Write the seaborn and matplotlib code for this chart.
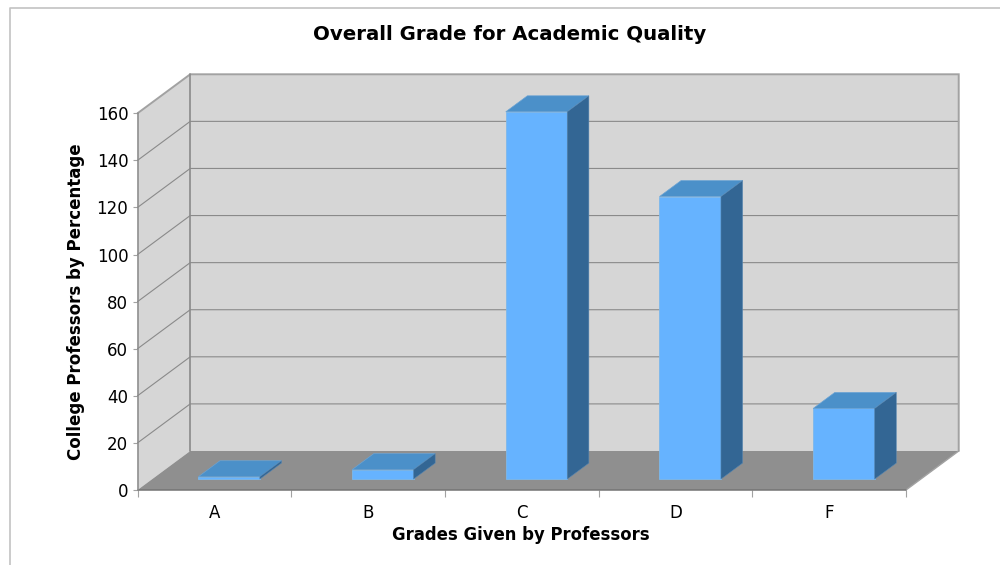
import matplotlib
matplotlib.use("Agg")
import matplotlib.pyplot as plt
from matplotlib.lines import Line2D
from matplotlib.patches import Polygon
from matplotlib.transforms import Affine2D
import pandas as pd
import seaborn as sns

grades = ["A", "B", "C", "D", "F"]
percent = [1, 4, 156, 120, 30]
y_ticks = [0, 20, 40, 60, 80, 100, 120, 140, 160]
title = "Overall Grade for Academic Quality"
x_label = "Grades Given by Professors"
y_label = "College Professors by Percentage"

W, H = 1000, 565
LEFT, RIGHT, TOP, BOTTOM = 137.5, 906.0, 113.3, 490.0
DEPTH_X, DEPTH_Y = 0.343, 16.57   # full chart depth, in data units
BAR_NEAR, BAR_FAR = 0.28, 0.69    # bar position within chart depth
WALL, FLOOR = "#d6d6d6", "#8f8f8f"
GRID, EDGE = "#8a8a8a", "#a2a2a2"
FRONT, TOPC, SIDE = "#66b3ff", "#4b90c9", "#336694"
TEXT = "#000000"

sns.set_theme(style="white")
plt.rcParams["font.family"] = ["DejaVu Sans"]

fig = plt.figure(figsize=(W / 100, H / 100), dpi=100, facecolor="white")
ax = fig.add_axes([LEFT / W, 1 - BOTTOM / H, (RIGHT - LEFT) / W, (BOTTOM - TOP) / H])
ax.set_facecolor("none")

df = pd.DataFrame({"grade": grades, "percent": percent})
sns.barplot(data=df, x="grade", y="percent", color=FRONT, saturation=1,
            width=0.4, ax=ax, zorder=5, linewidth=0.6, edgecolor="#7db8ea")
ax.set_xlim(-0.5, len(grades) - 0.5)
ax.set_ylim(y_ticks[0], y_ticks[-1])


def depth(x, y, d):
    return (x + DEPTH_X * d, y + DEPTH_Y * d)


x0, x1 = ax.get_xlim()
y0, y1 = ax.get_ylim()

# Walls and floor
ax.add_patch(Polygon([depth(x0, y0, 1), depth(x1, y0, 1), depth(x1, y1, 1), depth(x0, y1, 1)],
                     fc=WALL, ec="none", clip_on=False, zorder=1))
ax.add_patch(Polygon([depth(x0, y0, 0), depth(x0, y0, 1), depth(x0, y1, 1), depth(x0, y1, 0)],
                     fc=WALL, ec="none", clip_on=False, zorder=1))
ax.add_patch(Polygon([depth(x0, y0, 0), depth(x1, y0, 0), depth(x1, y0, 1), depth(x0, y0, 1)],
                     fc=FLOOR, ec="none", clip_on=False, zorder=1))

# Gridlines
for t in y_ticks[1:-1]:
    ax.plot(*zip(depth(x0, t, 0), depth(x0, t, 1), depth(x1, t, 1)),
            color=GRID, lw=0.8, clip_on=False, zorder=2)

# Frame edges
ax.plot(*zip(depth(x0, y1, 0), depth(x0, y1, 1), depth(x1, y1, 1), depth(x1, y0, 1)),
        color=EDGE, lw=1.4, clip_on=False, zorder=3, solid_joinstyle="miter")
ax.plot(*zip(depth(x1, y0, 1), depth(x1, y0, 0)), color=EDGE, lw=1.0, clip_on=False, zorder=3)
ax.plot(*zip(depth(x0, y0, 1), depth(x0, y1, 1)), color=GRID, lw=1.2, clip_on=False, zorder=3)
ax.plot(*zip(depth(x0, y0, 0), depth(x1, y0, 0)), color="#747474", lw=1.1, clip_on=False, zorder=3)
ax.plot(*zip(depth(x0, y0, 0), depth(x0, y1, 0)), color=GRID, lw=1.1, clip_on=False, zorder=3)

# Turn each seaborn bar into a box sitting inside the chart depth
shift_x, shift_y = depth(0, 0, BAR_NEAR)
bar_shift = Affine2D().translate(shift_x, shift_y) + ax.transData
for bar in list(ax.patches):
    if bar.get_zorder() != 5:
        continue
    bar.set_transform(bar_shift)
    bar.set_clip_on(False)
    bx0, bx1 = bar.get_x(), bar.get_x() + bar.get_width()
    val = bar.get_height()
    dd = BAR_FAR - BAR_NEAR
    ax.add_patch(Polygon([depth(bx0, val, 0), depth(bx1, val, 0), depth(bx1, val, dd), depth(bx0, val, dd)],
                         fc=TOPC, ec="#6aa3d4", lw=0.5, transform=bar_shift, clip_on=False, zorder=6))
    ax.add_patch(Polygon([depth(bx1, 0, 0), depth(bx1, 0, dd), depth(bx1, val, dd), depth(bx1, val, 0)],
                         fc=SIDE, ec="#5585b0", lw=0.4, transform=bar_shift, clip_on=False, zorder=6))

sns.despine(ax=ax, left=True, bottom=True)

ax.set_yticks(y_ticks)
ax.tick_params(axis="y", length=3.6, width=0.8, color=EDGE, pad=3, labelsize=12, labelcolor=TEXT, left=True)
ax.set_xticks(range(len(grades)))
ax.set_xticklabels(grades)
ax.tick_params(axis="x", which="major", length=0, pad=10, labelsize=12, labelcolor=TEXT)
ax.set_xticks([i - 0.5 for i in range(len(grades) + 1)], minor=True)
ax.tick_params(axis="x", which="minor", length=5, width=0.8, color=EDGE, bottom=True)

ax.set_xlabel(x_label, fontsize=11.9, fontweight="bold", color=TEXT)
ax.xaxis.set_label_coords(0.4985, -(535 - BOTTOM) / (BOTTOM - TOP), transform=ax.transAxes)
ax.xaxis.label.set_verticalalignment("center")
ax.set_ylabel(y_label, fontsize=12, fontweight="bold", color=TEXT)
ax.yaxis.set_label_coords(-(LEFT - 76) / (RIGHT - LEFT), 0.5, transform=ax.transAxes)
ax.yaxis.label.set_verticalalignment("center")

fig.text(509.5 / W, 1 - 34 / H, title, ha="center", va="center",
         fontsize=14.2, fontweight="bold", color=TEXT)

# Outer chart frame (runs off the picture on the right and bottom)
fig.add_artist(Line2D([10 / W, 10 / W, 1], [0, 1 - 8 / H, 1 - 8 / H], color="#c2c2c2", lw=1.2))

fig.savefig("out.png", dpi=100)
